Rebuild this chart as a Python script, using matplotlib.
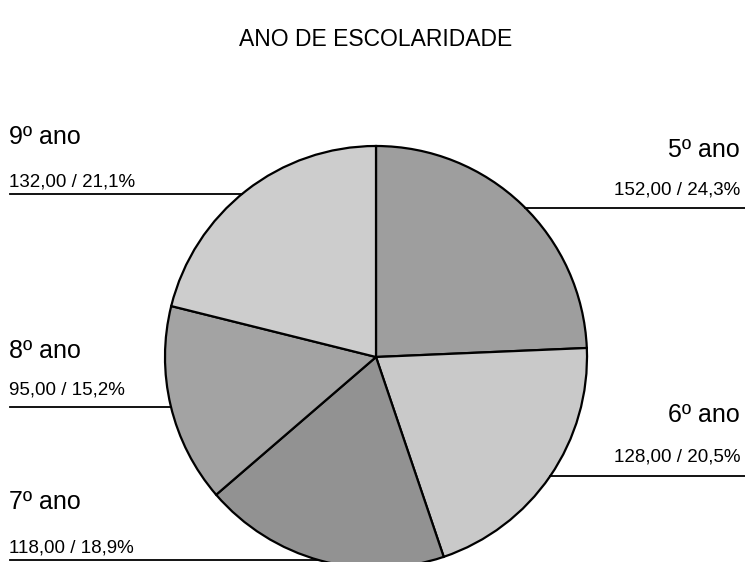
import numpy as np
import matplotlib
matplotlib.use("Agg")
import matplotlib.pyplot as plt

plt.rcParams['font.family'] = ['Liberation Sans', 'DejaVu Sans']

categories = ["5º ano", "6º ano", "7º ano", "8º ano", "9º ano"]
values = [152.00, 128.00, 118.00, 95.00, 132.00]
percents = [24.3, 20.5, 18.9, 15.2, 21.1]
colors = ["#9e9e9e", "#c9c9c9", "#929292", "#a3a3a3", "#cdcdcd"]

W, H = 745, 562
fig = plt.figure(figsize=(W / 100, H / 100), dpi=100)
ax = fig.add_axes([0, 0, 1, 1])

cx, cy, r = 376, H - 357, 211
ax.pie(values, colors=colors, startangle=90, counterclock=False,
       center=(cx, cy), radius=r, frame=True,
       wedgeprops=dict(edgecolor='black', linewidth=1.6))
ax.set_xlim(0, W)
ax.set_ylim(0, H)
ax.set_aspect('equal')
ax.axis('off')

fig.text(376 / W, 1 - 40 / H, "ANO DE ESCOLARIDADE", ha='center', va='center', fontsize=16.5)

# label layout: (side, name y, value y, line y) in pixels from top
layout = {
    "5º ano": ("right", 150, 190, 208),
    "6º ano": ("right", 415, 457, 476),
    "7º ano": ("left", 502, 548, 560),
    "8º ano": ("left", 351, 390, 407),
    "9º ano": ("left", 137, 182, 194),
}

for name, v, p in zip(categories, values, percents):
    side, ny, vy, ly = layout[name]
    val = f"{v:.2f}".replace('.', ',') + " / " + f"{p:.1f}".replace('.', ',') + "%"
    yl = H - ly
    dx = np.sqrt(max(r ** 2 - (yl - cy) ** 2, 0))
    if side == "right":
        tx, ha = 740, 'right'
        ax.plot([cx + dx, W], [yl, yl], color='black', lw=1.3)
    else:
        tx, ha = 9, 'left'
        ax.plot([10, cx - dx], [yl, yl], color='black', lw=1.3)
    ax.text(tx, H - ny, name, ha=ha, va='center', fontsize=18)
    ax.text(tx, H - vy, val, ha=ha, va='center', fontsize=13.5)

fig.savefig("out.png", dpi=100, facecolor='white')
